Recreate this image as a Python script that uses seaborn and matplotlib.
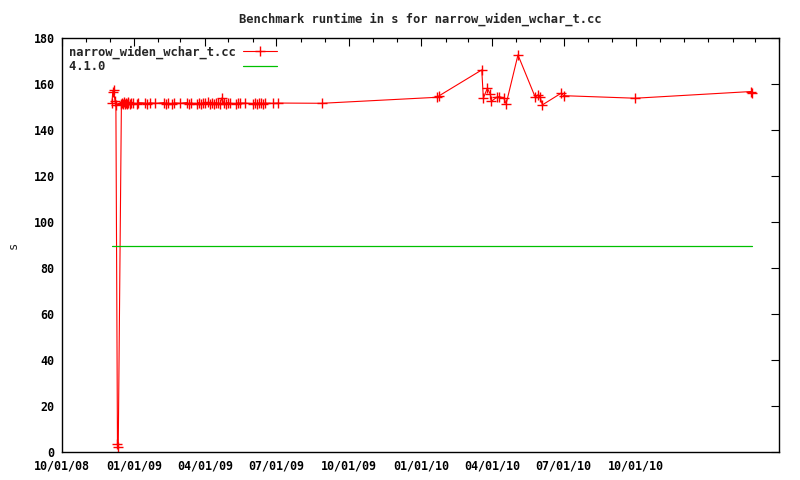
import seaborn as sns
from matplotlib import pyplot as plt
import matplotlib.dates as mdates
import pandas as pd

# runtime samples for narrow_widen_wchar_t.cc (date, seconds)
run_dates = [
    "2008-12-04", "2008-12-05", "2008-12-06", "2008-12-08", "2008-12-09",
    "2008-12-11", "2008-12-12", "2008-12-16",
    "2008-12-17", "2008-12-18", "2008-12-19", "2008-12-20", "2008-12-22",
    "2008-12-23", "2008-12-24", "2008-12-25", "2008-12-27", "2008-12-28",
    "2008-12-31", "2009-01-05", "2009-01-06", "2009-01-15", "2009-01-17",
    "2009-01-21", "2009-01-28", "2009-02-08", "2009-02-11", "2009-02-13",
    "2009-02-18", "2009-02-21", "2009-02-28", "2009-03-09", "2009-03-12",
    "2009-03-14", "2009-03-22", "2009-03-24", "2009-03-27", "2009-03-30",
    "2009-04-01", "2009-04-05", "2009-04-08", "2009-04-10", "2009-04-13",
    "2009-04-15", "2009-04-18", "2009-04-20", "2009-04-23", "2009-04-25",
    "2009-04-28", "2009-04-30", "2009-05-03", "2009-05-11", "2009-05-13",
    "2009-05-16", "2009-05-22", "2009-06-01", "2009-06-04", "2009-06-06",
    "2009-06-09", "2009-06-11", "2009-06-14", "2009-06-17", "2009-06-27",
    "2009-07-03", "2009-08-28",
    "2010-01-21", "2010-01-24", "2010-03-19", "2010-03-21", "2010-03-26",
    "2010-03-30", "2010-03-31", "2010-04-07", "2010-04-10", "2010-04-16",
    "2010-04-19", "2010-05-04", "2010-05-26", "2010-05-29", "2010-06-01",
    "2010-06-04", "2010-06-28", "2010-07-01", "2010-09-30", "2011-02-24",
    "2011-02-25",
]
run_secs = [
    151.7, 156.5, 157.3, 152.4, 151.0,
    3.5, 2.3, 151.5,
    151.8, 151.2, 152.0, 151.5, 151.9,
    151.3, 151.7, 152.1, 151.4, 151.8,
    151.6, 151.2, 151.9, 151.7, 151.4,
    151.8, 151.6, 151.9, 151.5, 151.7,
    151.2, 151.8, 151.6, 151.9, 151.4,
    151.7, 151.5, 151.9, 151.3, 151.8,
    151.6, 152.0, 151.5, 151.8, 151.4,
    151.9, 151.6, 151.3, 154.0, 151.7,
    151.5, 151.9, 151.6, 151.4, 151.8,
    151.6, 151.7, 151.5, 151.9, 151.3,
    151.8, 151.6, 151.4, 151.7, 151.6,
    151.7, 151.6,
    154.2, 154.9, 166.1, 153.8, 158.1,
    155.5, 152.4, 154.2, 154.5, 153.8,
    151.4, 172.6, 154.2, 155.2, 154.5,
    150.9, 156.0, 154.9, 153.8, 156.7,
    156.0,
]

# reference release 4.1.0
ref_dates = ["2008-12-04", "2011-02-25"]
ref_secs = [89.7, 89.7]

tick_dates = ["2008-10-01", "2009-01-01", "2009-04-01", "2009-07-01", "2009-10-01",
              "2010-01-01", "2010-04-01", "2010-07-01", "2010-10-01"]
tick_labels = ["10/01/08", "01/01/09", "04/01/09", "07/01/09", "10/01/09",
               "01/01/10", "04/01/10", "07/01/10", "10/01/10"]

runs = pd.DataFrame({"date": pd.to_datetime(run_dates), "secs": run_secs})
ref = pd.DataFrame({"date": pd.to_datetime(ref_dates), "secs": ref_secs})

sns.set_style("white")
plt.rcParams["font.family"] = ["DejaVu Sans Mono", "DejaVu Sans"]
plt.rcParams["font.weight"] = "bold"

fig = plt.figure(figsize=(8, 4.8), dpi=100)
ax = fig.add_axes([0.077, 0.058, 0.897, 0.863])

sns.lineplot(data=runs, x="date", y="secs", ax=ax, color="#ff0000",
             marker="+", markersize=7, markeredgewidth=1.0,
             markeredgecolor="#ff0000", linewidth=0.8,
             sort=False, label="narrow_widen_wchar_t.cc")
sns.lineplot(data=ref, x="date", y="secs", ax=ax, color="#00c000",
             linewidth=0.9, label="4.1.0".ljust(23))

ax.set_xlim(pd.Timestamp("2008-10-01"), pd.Timestamp("2011-04-01"))
ax.set_ylim(0, 180)
ax.set_yticks(range(0, 181, 20))
ax.set_xticks(pd.to_datetime(tick_dates))
ax.set_xticklabels(tick_labels)
ax.xaxis.set_minor_locator(mdates.MonthLocator())

ax.tick_params(axis="both", which="both", direction="in", top=True, right=True,
               labelsize=8.4, colors="black")
ax.tick_params(axis="both", which="major", length=6, width=0.8, pad=5)
ax.tick_params(axis="both", which="minor", length=3, width=0.8)
for s in ax.spines.values():
    s.set_color("black")
    s.set_linewidth(1.0)

plt.title("Benchmark runtime in s for narrow_widen_wchar_t.cc", fontsize=8.7,
          fontweight="bold", pad=11)
plt.xlabel("")
plt.ylabel("s", fontsize=8.7)
ax.yaxis.set_label_coords(-0.058, 0.5)

ax.legend(loc="upper left", frameon=False, markerfirst=False,
          fontsize=8.7, handlelength=2.8, borderaxespad=0.2,
          handletextpad=0.6, labelspacing=0.1)

fig.savefig("out.png", dpi=100)
